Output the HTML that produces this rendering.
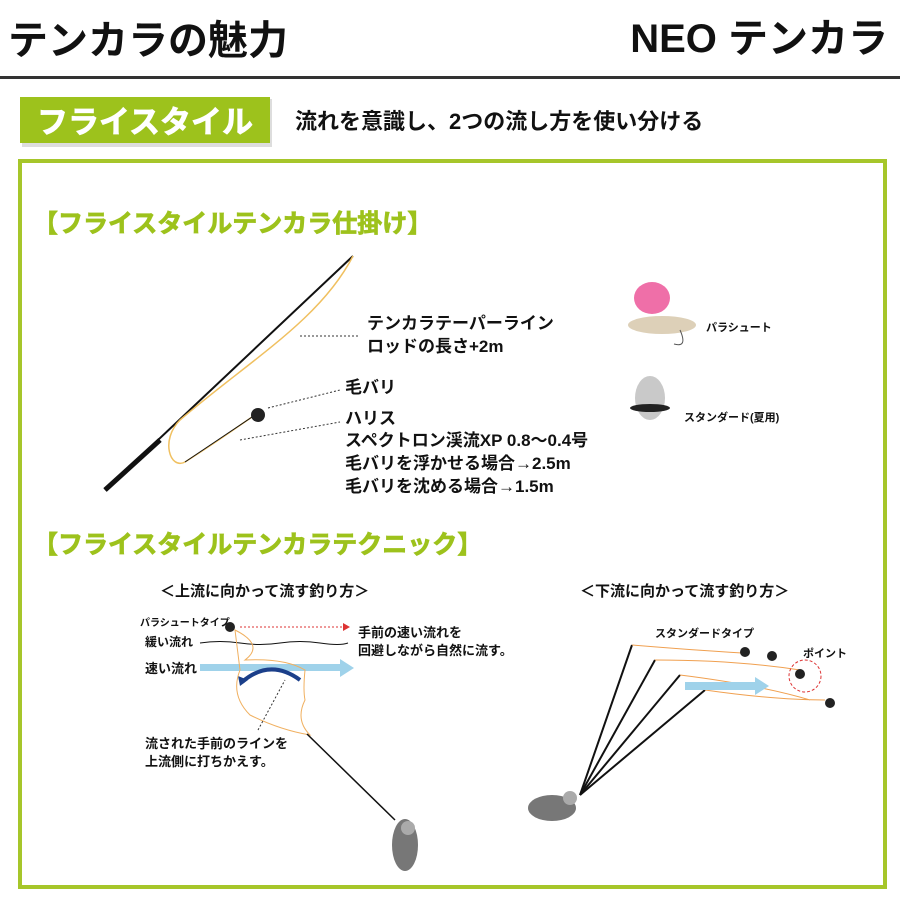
<!DOCTYPE html>
<html><head><meta charset="utf-8"><style>
body{margin:0;background:#fff;width:900px;height:900px;overflow:hidden}
svg{display:block}
text{font-family:"Liberation Sans","Noto Sans CJK JP",sans-serif;font-weight:bold}
</style></head><body>
<svg width="900" height="900" viewBox="0 0 900 900">
<text x="8" y="54" font-size="40" fill="#111">テンカラの魅力</text>
<text x="888" y="52" font-size="40" fill="#111" text-anchor="end">NEO テンカラ</text>
<rect x="0" y="76" width="900" height="3" fill="#333"/>
<rect x="22" y="99" width="250" height="48" fill="#bbb" opacity=".5"/>
<rect x="20" y="97" width="250" height="46" fill="#9dc21c"/>
<text x="145" y="133" font-size="31" fill="#fff" text-anchor="middle" stroke="#fff" stroke-width="0.8">フライスタイル</text>
<text x="295" y="129" font-size="22" fill="#111">流れを意識し、2つの流し方を使い分ける</text>
<rect x="20" y="161" width="865" height="726" fill="none" stroke="#a6c62a" stroke-width="4"/>
<text x="33" y="232" font-size="25" fill="#9dc21c" stroke="#9dc21c" stroke-width="0.8">【フライスタイルテンカラ仕掛け】</text>
<text x="33" y="553" font-size="25" fill="#9dc21c" stroke="#9dc21c" stroke-width="0.8">【フライスタイルテンカラテクニック】</text>
<!-- rod -->
<line x1="105" y1="490" x2="353" y2="256" stroke="#111" stroke-width="2"/>
<line x1="105" y1="490" x2="160" y2="440" stroke="#111" stroke-width="5"/>
<path d="M353 256 C320 320 250 360 180 420 C160 440 170 470 185 462 C220 440 240 425 255 415" fill="none" stroke="#f0c060" stroke-width="1.5"/>
<path d="M185 462 L255 415" stroke="#111" stroke-width="1"/>
<circle cx="258" cy="415" r="7" fill="#222"/>
<line x1="300" y1="336" x2="360" y2="336" stroke="#333" stroke-dasharray="2,2"/>
<line x1="268" y1="408" x2="340" y2="390" stroke="#333" stroke-dasharray="2,2"/>
<line x1="240" y1="440" x2="340" y2="422" stroke="#333" stroke-dasharray="2,2"/>
<g font-size="17" fill="#111">
<text x="367" y="329">テンカラテーパーライン</text>
<text x="367" y="352">ロッドの長さ+2m</text>
<text x="345" y="393">毛バリ</text>
<text x="345" y="424">ハリス</text>
<text x="345" y="446">スペクトロン渓流XP 0.8〜0.4号</text>
<text x="345" y="469">毛バリを浮かせる場合→2.5m</text>
<text x="345" y="492">毛バリを沈める場合→1.5m</text>
</g>
<!-- flies -->
<ellipse cx="652" cy="298" rx="18" ry="16" fill="#ef6fa8"/>
<ellipse cx="662" cy="325" rx="34" ry="9" fill="#ddd0b8"/>
<path d="M680 330 q8 18 -6 14" fill="none" stroke="#555"/>
<text x="706" y="331" font-size="11" fill="#111">パラシュート</text>
<ellipse cx="650" cy="398" rx="15" ry="22" fill="#bbb" opacity=".8"/>
<ellipse cx="650" cy="408" rx="20" ry="4" fill="#222"/>
<text x="684" y="421" font-size="11" fill="#111">スタンダード(夏用)</text>
<!-- left technique -->
<text x="160" y="596" font-size="15" fill="#111">＜上流に向かって流す釣り方＞</text>
<text x="140" y="626" font-size="10" fill="#111">パラシュートタイプ</text>
<circle cx="230" cy="627" r="5" fill="#222"/>
<line x1="240" y1="627" x2="343" y2="627" stroke="#d33" stroke-dasharray="2,2"/>
<path d="M343 623 l7 4 l-7 4z" fill="#d33"/>
<text x="145" y="646" font-size="12" fill="#111">緩い流れ</text>
<path d="M200 643 q20 -3 40 0 t40 0 t40 0 t28 0" fill="none" stroke="#111"/>
<text x="145" y="673" font-size="13" fill="#111">速い流れ</text>
<rect x="200" y="664" width="140" height="7" fill="#9fd2ea"/>
<path d="M340 659 l14 9 l-14 9z" fill="#9fd2ea"/>
<path d="M300 680 q-30 -22 -58 2" fill="none" stroke="#1b3f8a" stroke-width="4"/>
<path d="M238 676 l2 10 l8 -6z" fill="#1b3f8a"/>
<path d="M235 630 q30 15 10 30 q40 -2 60 10 q-2 20 0 30 q-10 20 5 35 q-30 -5 -60 -20 q-20 -20 -10 -45 z" fill="none" stroke="#f0b060"/>
<line x1="258" y1="730" x2="285" y2="680" stroke="#333" stroke-dasharray="2,2"/>
<line x1="307" y1="734" x2="395" y2="820" stroke="#111" stroke-width="1.5"/>
<text x="358" y="637" font-size="13" fill="#111">手前の速い流れを</text>
<text x="358" y="655" font-size="13" fill="#111">回避しながら自然に流す。</text>
<text x="145" y="748" font-size="13" fill="#111">流された手前のラインを</text>
<text x="145" y="766" font-size="13" fill="#111">上流側に打ちかえす。</text>
<ellipse cx="405" cy="845" rx="13" ry="26" fill="#777"/>
<circle cx="408" cy="828" r="7" fill="#aaa"/>
<!-- right technique -->
<text x="580" y="596" font-size="15" fill="#111">＜下流に向かって流す釣り方＞</text>
<text x="655" y="637" font-size="11" fill="#111">スタンダードタイプ</text>
<text x="803" y="657" font-size="11" fill="#111">ポイント</text>
<g stroke="#111" stroke-width="2">
<line x1="580" y1="795" x2="632" y2="645"/>
<line x1="580" y1="795" x2="655" y2="660"/>
<line x1="580" y1="795" x2="680" y2="675"/>
<line x1="580" y1="795" x2="705" y2="690"/>
</g>
<path d="M632 645 q60 5 110 8 M655 660 q80 0 145 10 M680 675 q80 10 130 25 M705 690 q70 10 120 10" fill="none" stroke="#f0a050"/>
<rect x="685" y="682" width="70" height="8" fill="#9fd2ea"/>
<path d="M755 677 l14 9 l-14 9z" fill="#9fd2ea"/>
<circle cx="805" cy="676" r="16" fill="none" stroke="#d33" stroke-dasharray="3,2"/>
<g fill="#222"><circle cx="745" cy="652" r="5"/><circle cx="772" cy="656" r="5"/><circle cx="800" cy="674" r="5"/><circle cx="830" cy="703" r="5"/></g>
<ellipse cx="552" cy="808" rx="24" ry="13" fill="#777"/>
<circle cx="570" cy="798" r="7" fill="#aaa"/>
</svg>
</body></html>
